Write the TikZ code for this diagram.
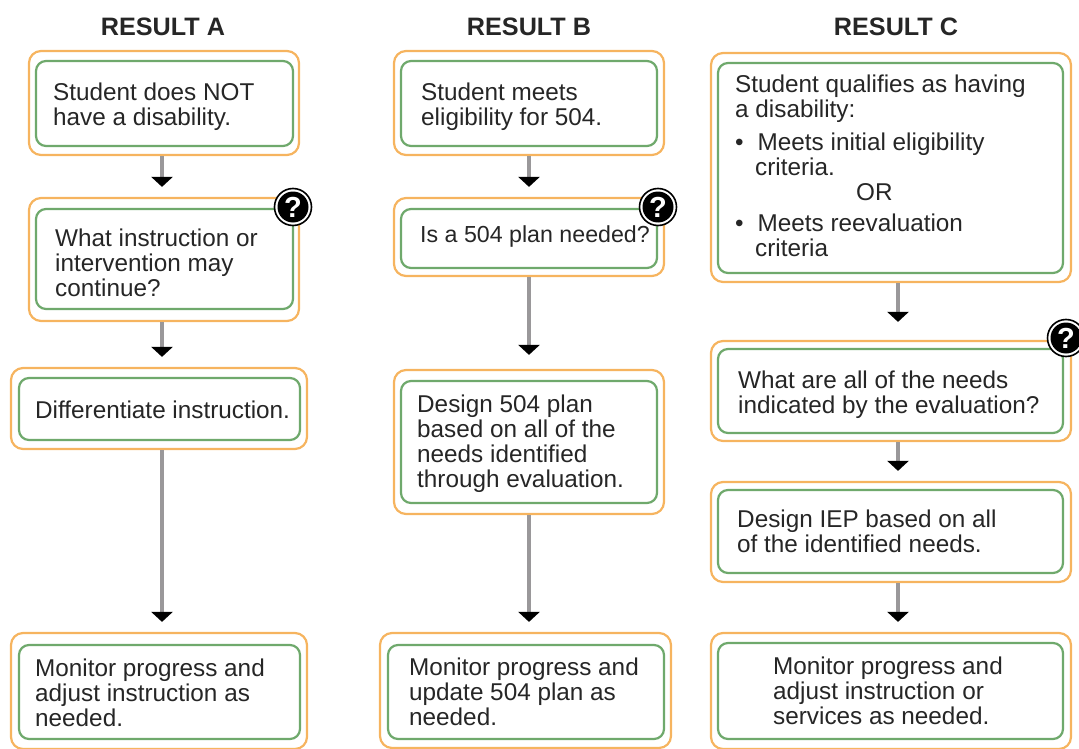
\documentclass[tikz,border=0pt]{standalone}
\usepackage{xcolor}
\usepackage{fontspec}
\setmainfont{Liberation Sans}
\definecolor{boxorange}{HTML}{F6B45F}
\definecolor{boxgreen}{HTML}{6FA96C}
\definecolor{linegray}{HTML}{9A989A}
\definecolor{textgray}{HTML}{262626}
\usetikzlibrary{arrows.meta}
\tikzset{
    outerbox/.style={draw=boxorange, line width=2.2pt, rounded corners=12pt, fill=white},
    innerbox/.style={draw=boxgreen, line width=2.2pt, rounded corners=10pt, fill=white},
    boxtext/.style={anchor=west, align=left, inner sep=0pt, text=textgray, font=\fontsize{24.3}{25}\selectfont},
    headtext/.style={inner sep=0pt, text=textgray, font=\fontsize{25.2}{25}\selectfont\bfseries},
    flowline/.style={draw=linegray, line width=3.2pt, shorten >=10pt, -{Triangle[black, length=10pt, width=21pt]}},
    helpring/.style={circle, draw=black, line width=1.6pt, fill=white, minimum size=37pt, inner sep=0pt},
    helpdot/.style={circle, fill=black, minimum size=31pt, inner sep=0pt, text=white, font=\fontsize{29}{29}\selectfont\bfseries},
}
\begin{document}
\begin{tikzpicture}[x=1pt, y=-1pt]
    \useasboundingbox (0, 0) rectangle (1079, 749);

    \node[headtext] (heada) at (163, 27) {RESULT A};
    \node[headtext] (headb) at (529, 27) {RESULT B};
    \node[headtext] (headc) at (896, 27) {RESULT C};

    % result a
    \node[outerbox, minimum width=270pt, minimum height=104pt] (a1) at (164, 103) {};
    \node[innerbox, minimum width=257pt, minimum height=85pt] (a1in) at (164.5, 103.5) {};
    \node[boxtext] (a1text) at (53, 107) {Student does NOT\\have a disability.};

    \node[outerbox, minimum width=270pt, minimum height=123pt] (a2) at (164, 259.5) {};
    \node[innerbox, minimum width=257pt, minimum height=100pt] (a2in) at (164.5, 259) {};
    \node[boxtext] (a2text) at (55, 263) {What instruction or\\intervention may\\continue?};

    \node[outerbox, minimum width=296pt, minimum height=81pt] (a3) at (159, 408.5) {};
    \node[innerbox, minimum width=281pt, minimum height=62pt] (a3in) at (159.5, 409) {};
    \node[boxtext] (a3text) at (35, 410) {Differentiate instruction.};

    \node[outerbox, minimum width=296pt, minimum height=116pt] (a4) at (159, 691) {};
    \node[innerbox, minimum width=281pt, minimum height=94pt] (a4in) at (159.5, 692) {};
    \node[boxtext] (a4text) at (35, 693) {Monitor progress and\\adjust instruction as\\needed.};

    % result b
    \node[outerbox, minimum width=270pt, minimum height=104pt] (b1) at (529, 103) {};
    \node[innerbox, minimum width=256pt, minimum height=85pt] (b1in) at (529, 103.5) {};
    \node[boxtext] (b1text) at (421, 107) {Student meets\\eligibility for 504.};

    \node[outerbox, minimum width=270pt, minimum height=78pt] (b2) at (529, 237) {};
    \node[innerbox, minimum width=256pt, minimum height=59pt] (b2in) at (529, 238.5) {};
    \node[boxtext, font=\fontsize{23.2}{25}\selectfont] (b2text) at (420, 237) {Is a 504 plan needed?};

    \node[outerbox, minimum width=270pt, minimum height=144pt] (b3) at (529, 442) {};
    \node[innerbox, minimum width=256pt, minimum height=122pt] (b3in) at (529, 442) {};
    \node[boxtext] (b3text) at (417, 444) {Design 504 plan\\based on all of the\\needs identified\\through evaluation.};

    \node[outerbox, minimum width=291pt, minimum height=115pt] (b4) at (525.5, 690.5) {};
    \node[innerbox, minimum width=276pt, minimum height=94pt] (b4in) at (526, 692) {};
    \node[boxtext] (b4text) at (409, 692) {Monitor progress and\\update 504 plan as\\needed.};

    % result c
    \node[outerbox, minimum width=360pt, minimum height=229pt] (c1) at (891, 167.5) {};
    \node[innerbox, minimum width=345pt, minimum height=210pt] (c1in) at (890.5, 168) {};
    \node[boxtext] (c1text) at (735, 166) {Student qualifies as having\\a disability:\\[8pt]
        \textbullet\hspace{14pt}Meets initial eligibility\\
        \hspace{20pt}criteria.\\
        \hspace{121pt}OR\\[6pt]
        \textbullet\hspace{14pt}Meets reevaluation\\
        \hspace{20pt}criteria};

    \node[outerbox, minimum width=360pt, minimum height=100pt] (c2) at (891, 391) {};
    \node[innerbox, minimum width=345pt, minimum height=84pt] (c2in) at (890.5, 391) {};
    \node[boxtext] (c2text) at (738, 395) {What are all of the needs\\indicated by the evaluation?};

    \node[outerbox, minimum width=360pt, minimum height=100pt] (c3) at (891, 532) {};
    \node[innerbox, minimum width=345pt, minimum height=83pt] (c3in) at (890.5, 531.5) {};
    \node[boxtext] (c3text) at (737, 531) {Design IEP based on all\\of the identified needs.};

    \node[outerbox, minimum width=360pt, minimum height=116pt] (c4) at (891, 691) {};
    \node[innerbox, minimum width=345pt, minimum height=96pt] (c4in) at (890.5, 691) {};
    \node[boxtext] (c4text) at (773, 691) {Monitor progress and\\adjust instruction or\\services as needed.};

    % help badges
    \node[helpring] (helpa) at (293, 207) {};
    \node[helpdot] (helpadot) at (helpa) {?};
    \node[helpring] (helpb) at (658, 207) {};
    \node[helpdot] (helpbdot) at (helpb) {?};
    \node[helpring] (helpc) at (1066, 338) {};
    \node[helpdot] (helpcdot) at (helpc) {?};

    % connectors
    \draw[flowline] ([xshift=-2pt]a1.south) -- ([xshift=-2pt]a2.north);
    \draw[flowline] ([xshift=-2pt]a2.south) -- ([xshift=3pt]a3.north);
    \draw[flowline] ([xshift=3pt]a3.south) -- ([xshift=3pt]a4.north);

    \draw[flowline] (b1) -- (b2);
    \draw[flowline, shorten >=14pt] (b2) -- (b3);
    \draw[flowline] (b3.south) -- ([xshift=3.5pt]b4.north);

    \draw[flowline, shorten >=18pt] ([xshift=7pt]c1.south) -- ([xshift=7pt]c2.north);
    \draw[flowline] ([xshift=7pt]c2.south) -- ([xshift=7pt]c3.north);
    \draw[flowline] ([xshift=7pt]c3.south) -- ([xshift=7pt]c4.north);
\end{tikzpicture}
\end{document}
